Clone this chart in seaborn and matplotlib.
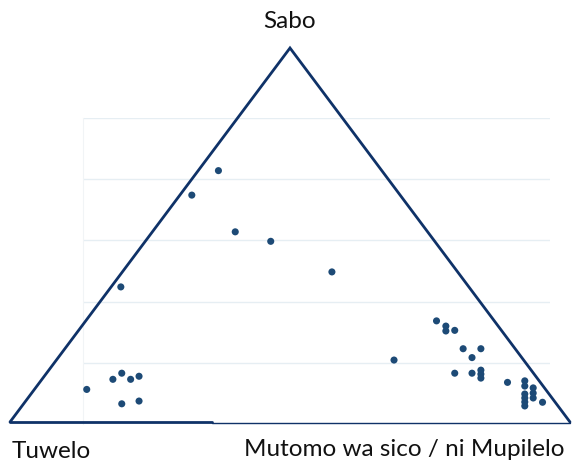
import numpy as np
import pandas as pd
from matplotlib import pyplot as plt
import seaborn as sns

sns.set_style("white")
plt.rcParams['font.family'] = ['Lato', 'DejaVu Sans']

# corner labels of the triangle
top_label = "Sabo"
left_label = "Tuwelo"
right_label = "Mutomo wa sico / ni Mupilelo"

# point positions (fraction of plot width / height)
pos_x = [0.008, 0.064, 0.083, 0.102, 0.120, 0.083, 0.120, 0.081, 0.233, 0.290,
         0.326, 0.402, 0.533, 0.666, 0.757, 0.777, 0.777, 0.796, 0.814, 0.852,
         0.833, 0.796, 0.833, 0.852, 0.852, 0.852, 0.909, 0.946, 0.946, 0.946,
         0.946, 0.946, 0.946, 0.964, 0.964, 0.964, 0.984]
pos_y = [0.113, 0.146, 0.166, 0.146, 0.156, 0.066, 0.075, 0.448, 0.748, 0.828,
         0.628, 0.597, 0.497, 0.209, 0.337, 0.320, 0.304, 0.306, 0.246, 0.246,
         0.217, 0.166, 0.166, 0.176, 0.163, 0.150, 0.136, 0.141, 0.124, 0.098,
         0.085, 0.072, 0.059, 0.118, 0.101, 0.085, 0.071]

df = pd.DataFrame({"x": pos_x, "y": pos_y})

W, H = 572, 466
fig = plt.figure(figsize=(W / 100, H / 100), dpi=100)

# scatter axes (pixel box 83..550 x 118..424)
ax = fig.add_axes([83 / W, 1 - 424 / H, (550 - 83) / W, (424 - 118) / H])
sns.scatterplot(data=df, x="x", y="y", ax=ax, color="#1d4a76", s=26,
                edgecolor="none", zorder=3)
ax.set_xlim(0, 1)
ax.set_ylim(0, 1)
ax.set_yticks(np.arange(0.2, 1.01, 0.2))
ax.set_xticks([])
ax.yaxis.grid(True, color="#e6eef3", linewidth=1)
ax.tick_params(left=False, labelleft=False)
ax.set_xlabel("")
ax.set_ylabel("")
for side in ["top", "right", "bottom"]:
    ax.spines[side].set_visible(False)
ax.spines["left"].set_color("#f1f4f6")
ax.spines["left"].set_linewidth(0.8)

# overlay for the triangle frame and corner labels
ov = fig.add_axes([0, 0, 1, 1])
ov.set_xlim(0, W)
ov.set_ylim(H, 0)
ov.axis("off")
ov.patch.set_alpha(0)
tri_color = "#0f3268"
ov.plot([10, 290, 570], [422, 48, 422], color=tri_color, lw=2.0,
        solid_joinstyle="miter")
ov.plot([10, 212], [422, 422], color=tri_color, lw=2.0)
ov.plot([212, 570], [423, 423], color=tri_color, lw=1.0)

ov.text(290, 21, top_label, ha="center", va="center", fontsize=17.5, color="#111111")
ov.text(12, 452, left_label, ha="left", va="center", fontsize=17.5, color="#111111")
ov.text(565, 449, right_label, ha="right", va="center", fontsize=17.5, color="#111111")

plt.savefig("out.png", dpi=100)
